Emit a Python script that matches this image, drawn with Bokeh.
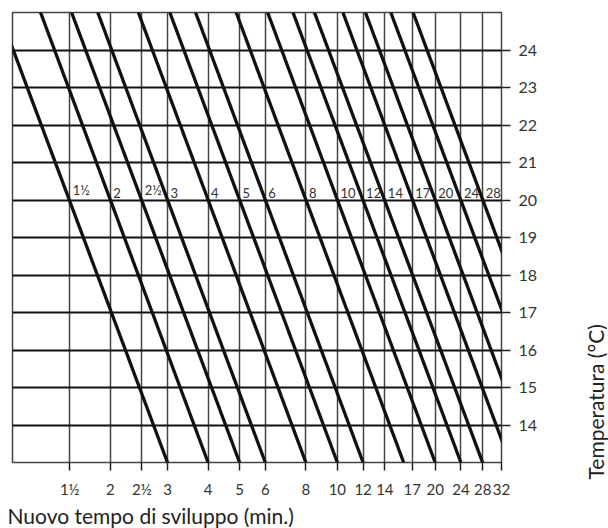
import math
from bokeh.plotting import figure
from bokeh.layouts import row
from bokeh.models import FixedTicker, Title, ColumnDataSource
from bokeh.core.properties import value
from bokeh.embed import file_html
from bokeh.resources import INLINE

# --- data -------------------------------------------------------------
time_ticks = [1.5, 2, 2.5, 3, 4, 5, 6, 8, 10, 12, 14, 17, 20, 24, 28, 32]
time_tick_labels = ["1½", "2", "2½", "3", "4", "5", "6", "8", "10", "12",
                    "14", "17", "20", "24", "28", "32"]
temp_ticks = [14, 15, 16, 17, 18, 19, 20, 21, 22, 23, 24]

line_labels = ["1½", "2", "2½", "3", "4", "5", "6", "8", "10", "12", "14",
               "17", "20", "24", "28"]
time_at_20 = [1.5, 2, 2.5, 3, 4, 5, 6, 8, 10, 12, 14, 17, 20, 24, 28]
time_at_25 = [0.91, 1.22, 1.52, 1.83, 2.44, 3.05, 3.66, 4.88, 6.1, 7.3, 8.5,
              10.4, 12.2, 14.6, 17.1]
time_at_13 = [3, 4, 5, 6, 8, 10, 12, 16, 20, 24, 28, 34, 40, 48, 56]
temp_top = 25
temp_bottom = 13
temp_label = 20

x_title = "Nuovo tempo di sviluppo (min.)"
y_title = "Temperatura (°C)"

FONT = "Lato"

p = figure(x_axis_type="log", x_range=(1, 32), y_range=(temp_bottom, temp_top),
           frame_width=489, frame_height=450,
           min_border_left=12, min_border_top=12, min_border_right=79, min_border_bottom=66,
           x_axis_location="below", y_axis_location="right",
           output_backend="svg", toolbar_location=None,
           background_fill_color="white", border_fill_color="white")

p.outline_line_color = "#444444"
p.outline_line_width = 1.5

# grids
p.xgrid.ticker = FixedTicker(ticks=time_ticks)
p.xgrid.grid_line_color = "#444444"
p.xgrid.grid_line_width = 1.5
p.ygrid.ticker = FixedTicker(ticks=[temp_bottom] + temp_ticks)
p.ygrid.grid_line_color = "#111111"
p.ygrid.grid_line_width = 2

# bottom axis
xa = p.xaxis[0]
xa.ticker = FixedTicker(ticks=time_ticks)
xa.major_label_overrides = {t: l for t, l in zip(time_ticks, time_tick_labels)}
xa.axis_line_color = None
xa.major_tick_in = 0
xa.major_tick_out = 8
xa.major_tick_line_color = "#222222"
xa.major_tick_line_width = 1.5
xa.minor_tick_line_color = None
xa.major_label_text_font = FONT
xa.major_label_text_font_size = "15px"
xa.major_label_text_color = "#333333"
xa.major_label_standoff = 9

# right axis
ya = p.yaxis[0]
ya.ticker = FixedTicker(ticks=temp_ticks)
ya.axis_line_color = None
ya.major_tick_in = 0
ya.major_tick_out = 9
ya.major_tick_line_color = "#222222"
ya.major_tick_line_width = 1.5
ya.minor_tick_line_color = None
ya.major_label_text_font = FONT
ya.major_label_text_font_size = "16px"
ya.major_label_text_color = "#333333"
ya.major_label_standoff = 8

# diagonal lines
src = ColumnDataSource(dict(x0=time_at_25, y0=[temp_top] * len(time_at_25),
                            x1=time_at_13, y1=[temp_bottom] * len(time_at_13)))
p.segment(x0="x0", y0="y0", x1="x1", y1="y1", source=src,
          line_color="#111111", line_width=3.3, line_cap="butt")

# inline labels at 20 °C
lsrc = ColumnDataSource(dict(x=time_at_20, y=[temp_label] * len(time_at_20), t=line_labels))
p.text(x="x", y="y", text="t", source=lsrc, x_offset=3, y_offset=-2,
       text_font=value(FONT), text_font_size="13px", text_color="#333333",
       text_baseline="bottom", text_align="left")

# x title (below, left aligned)
p.add_layout(Title(text=x_title, align="left", offset=-5, standoff=0,
                   text_font=FONT, text_font_size="21px", text_color="#222222",
                   text_font_style="normal"), "below")

# y title in a narrow side figure (left-side title reads bottom to top)
p2 = figure(width=28, height=528, x_range=(0, 1), y_range=(0, 1),
            x_axis_location=None, y_axis_location=None, title=None,
            min_border=0, output_backend="svg", toolbar_location=None,
            background_fill_color="white", border_fill_color="white")
p2.grid.visible = False
p2.outline_line_color = None
p2.add_layout(Title(text=y_title, align="left", offset=-17, standoff=2,
                    text_font=FONT, text_font_size="21px", text_color="#222222",
                    text_font_style="normal"), "left")

layout = row(p, p2, spacing=0)
open("out.html", "w").write(file_html(layout, INLINE))
